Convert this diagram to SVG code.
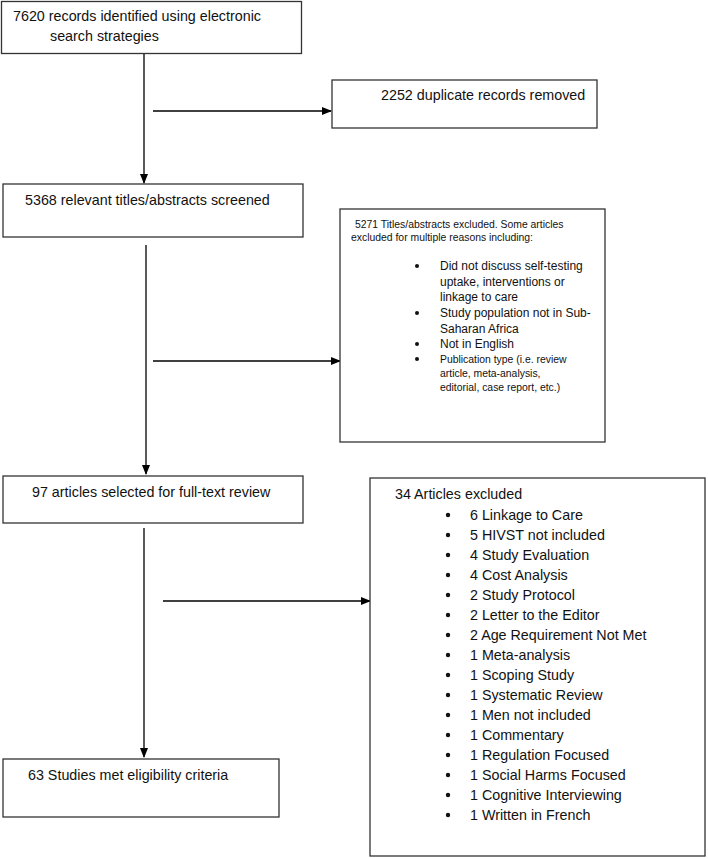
<svg xmlns="http://www.w3.org/2000/svg" width="708" height="859" viewBox="0 0 708 859">
<defs>
<marker id="ah" markerWidth="10" markerHeight="8" refX="9" refY="4" orient="auto" markerUnits="userSpaceOnUse">
<path d="M0,0 L10,4 L0,8 Z" fill="#000"/>
</marker>
<style>
.box{fill:#fff;stroke:#333;stroke-width:1.3}
.t{font-family:"Liberation Sans",Arial,sans-serif;font-size:14.3px;fill:#111}
.m{font-family:"Liberation Sans",Arial,sans-serif;font-size:12px;fill:#111}
.s{font-family:"Liberation Sans",Arial,sans-serif;font-size:10.4px;fill:#111}
.c{stroke:#000;stroke-width:1.3;fill:none;marker-end:url(#ah)}
.b{fill:#111}
</style>
</defs>
<rect width="708" height="859" fill="#fff"/>
<g id="connectors">
<line class="c" x1="144" y1="53" x2="144" y2="183"/>
<line class="c" x1="153" y1="111" x2="331" y2="111"/>
<line class="c" x1="146" y1="245" x2="146" y2="474"/>
<line class="c" x1="153" y1="361" x2="340" y2="361"/>
<line class="c" x1="144" y1="528" x2="144" y2="757"/>
<line class="c" x1="163" y1="601" x2="370" y2="601"/>
</g>
<g id="n1">
<rect class="box" x="1.5" y="1.5" width="300" height="52"/>
<text class="t" x="13" y="21">7620 records identified using electronic</text>
<text class="t" x="50" y="41">search strategies</text>
</g>
<g id="n2">
<rect class="box" x="332" y="80" width="265" height="48"/>
<text class="t" x="381" y="100">2252 duplicate records removed</text>
</g>
<g id="n3">
<rect class="box" x="3" y="184" width="300" height="53"/>
<text class="t" x="25" y="205">5368 relevant titles/abstracts screened</text>
</g>
<g id="n4">
<rect class="box" x="340" y="209" width="265" height="233"/>
<text class="s" x="355" y="228">5271 Titles/abstracts excluded. Some articles</text>
<text class="s" x="351" y="241">excluded for multiple reasons including:</text>
<circle class="b" cx="417" cy="266" r="2"/>
<text class="m" x="440" y="270">Did not discuss self-testing</text>
<text class="m" x="440" y="285.5">uptake, interventions or</text>
<text class="m" x="440" y="301">linkage to care</text>
<circle class="b" cx="417" cy="313" r="2"/>
<text class="m" x="440" y="317">Study population not in Sub-</text>
<text class="m" x="440" y="332.5">Saharan Africa</text>
<circle class="b" cx="417" cy="344" r="2"/>
<text class="m" x="440" y="348">Not in English</text>
<circle class="b" cx="417" cy="359" r="2"/>
<text class="s" x="440" y="363">Publication type (i.e. review</text>
<text class="s" x="440" y="377">article, meta-analysis,</text>
<text class="s" x="440" y="391">editorial, case report, etc.)</text>
</g>
<g id="n5">
<rect class="box" x="3" y="476" width="300" height="47"/>
<text class="t" x="32" y="497">97 articles selected for full-text review</text>
</g>
<g id="n6">
<rect class="box" x="3" y="759" width="276" height="58"/>
<text class="t" x="28" y="780">63 Studies met eligibility criteria</text>
</g>
<g id="n7">
<rect class="box" x="370" y="478" width="335" height="378"/>
<text class="t" x="395" y="499">34 Articles excluded</text>
<g class="t">
<circle class="b" cx="448" cy="515" r="2.2"/><text class="t" x="470" y="520">6 Linkage to Care</text>
<circle class="b" cx="448" cy="535" r="2.2"/><text class="t" x="470" y="540">5 HIVST not included</text>
<circle class="b" cx="448" cy="555" r="2.2"/><text class="t" x="470" y="560">4 Study Evaluation</text>
<circle class="b" cx="448" cy="575" r="2.2"/><text class="t" x="470" y="580">4 Cost Analysis</text>
<circle class="b" cx="448" cy="595" r="2.2"/><text class="t" x="470" y="600">2 Study Protocol</text>
<circle class="b" cx="448" cy="615" r="2.2"/><text class="t" x="470" y="620">2 Letter to the Editor</text>
<circle class="b" cx="448" cy="635" r="2.2"/><text class="t" x="470" y="640">2 Age Requirement Not Met</text>
<circle class="b" cx="448" cy="655" r="2.2"/><text class="t" x="470" y="660">1 Meta-analysis</text>
<circle class="b" cx="448" cy="675" r="2.2"/><text class="t" x="470" y="680">1 Scoping Study</text>
<circle class="b" cx="448" cy="695" r="2.2"/><text class="t" x="470" y="700">1 Systematic Review</text>
<circle class="b" cx="448" cy="715" r="2.2"/><text class="t" x="470" y="720">1 Men not included</text>
<circle class="b" cx="448" cy="735" r="2.2"/><text class="t" x="470" y="740">1 Commentary</text>
<circle class="b" cx="448" cy="755" r="2.2"/><text class="t" x="470" y="760">1 Regulation Focused</text>
<circle class="b" cx="448" cy="775" r="2.2"/><text class="t" x="470" y="780">1 Social Harms Focused</text>
<circle class="b" cx="448" cy="795" r="2.2"/><text class="t" x="470" y="800">1 Cognitive Interviewing</text>
<circle class="b" cx="448" cy="815" r="2.2"/><text class="t" x="470" y="820">1 Written in French</text>
</g>
</g>
</svg>
